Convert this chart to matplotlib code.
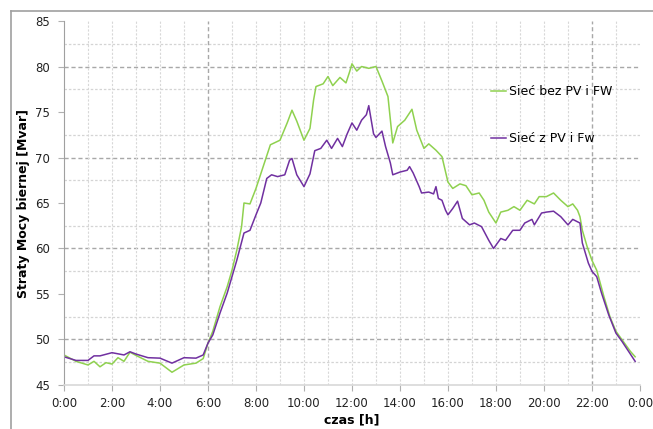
import matplotlib
matplotlib.use('Agg')
import matplotlib.pyplot as plt
from matplotlib.lines import Line2D

# czas [h] i straty mocy biernej [Mvar]
t_bez = [0, 0.5, 1, 1.25, 1.5, 1.75, 2, 2.25, 2.5, 2.75, 3, 3.5, 4, 4.5, 5, 5.5, 5.8,
         6, 6.2, 6.5, 6.8, 7, 7.2, 7.4, 7.5, 7.75, 8, 8.3, 8.6, 9, 9.3, 9.5, 9.7, 10,
         10.25, 10.4, 10.5, 10.8, 11, 11.2, 11.5, 11.75, 11.9, 12, 12.2, 12.4, 12.7,
         13, 13.25, 13.5, 13.7, 13.9, 14.2, 14.5, 14.7, 15, 15.2, 15.5, 15.75, 16,
         16.2, 16.5, 16.75, 17, 17.3, 17.5, 17.7, 18, 18.2, 18.5, 18.75, 19, 19.3,
         19.6, 19.8, 20.1, 20.4, 20.7, 21, 21.2, 21.4, 21.5, 21.6, 21.8, 22, 22.2,
         22.5, 22.75, 23, 23.3, 23.6, 23.8]
bez_pv = [48.3, 47.6, 47.2, 47.6, 47.0, 47.45, 47.3, 48.0, 47.6, 48.6, 48.25, 47.6,
          47.4, 46.4, 47.2, 47.4, 47.9, 49.6, 50.9, 53.6, 55.8, 57.6, 59.8, 62.4,
          65.0, 64.9, 66.6, 69.0, 71.4, 71.9, 73.8, 75.2, 74.0, 71.9, 73.2, 76.3,
          77.8, 78.1, 78.9, 77.9, 78.8, 78.2, 79.4, 80.3, 79.5, 80.0, 79.8, 80.0,
          78.4, 76.7, 71.6, 73.4, 74.1, 75.3, 73.0, 71.0, 71.5, 70.8, 70.1, 67.3,
          66.6, 67.1, 66.9, 65.9, 66.1, 65.3, 64.0, 62.8, 64.0, 64.2, 64.6, 64.2,
          65.3, 64.9, 65.7, 65.7, 66.1, 65.3, 64.6, 64.9, 64.2, 63.5, 62.0, 60.2,
          58.7, 57.6, 54.7, 52.5, 50.9, 49.8, 48.7, 48.1]

t_z = [0, 0.5, 1, 1.25, 1.5, 2, 2.5, 2.75, 3, 3.5, 4, 4.5, 5, 5.5, 5.8, 6, 6.2,
       6.5, 6.8, 7, 7.2, 7.5, 7.75, 8, 8.2, 8.45, 8.65, 8.9, 9.2, 9.4, 9.5, 9.7,
       10, 10.25, 10.45, 10.7, 10.95, 11.15, 11.4, 11.6, 11.8, 12, 12.2, 12.4,
       12.6, 12.7, 12.9, 13, 13.25, 13.4, 13.6, 13.7, 14, 14.3, 14.4, 14.55, 14.8,
       14.9, 15.2, 15.4, 15.5, 15.6, 15.75, 15.9, 16, 16.2, 16.4, 16.6, 16.9, 17.1,
       17.4, 17.7, 17.9, 18.2, 18.4, 18.7, 19, 19.2, 19.5, 19.6, 19.9, 20.1, 20.4,
       20.7, 21, 21.2, 21.5, 21.6, 21.85, 22, 22.2, 22.4, 22.7, 23, 23.25, 23.5,
       23.8]
z_pv = [48.1, 47.7, 47.7, 48.2, 48.2, 48.55, 48.3, 48.65, 48.4, 48.0, 47.95, 47.4,
        48.0, 47.95, 48.3, 49.6, 50.5, 52.9, 55.1, 56.9, 58.7, 61.7, 62.0, 63.7,
        65.0, 67.7, 68.1, 67.9, 68.1, 69.7, 69.9, 68.1, 66.8, 68.2, 70.75, 71.0,
        71.9, 71.0, 72.1, 71.2, 72.6, 73.8, 73.0, 74.1, 74.7, 75.7, 72.6, 72.2,
        72.9, 71.2, 69.4, 68.1, 68.4, 68.6, 69.0, 68.3, 66.8, 66.1, 66.2, 66.0,
        66.8, 65.5, 65.3, 64.2, 63.7, 64.4, 65.2, 63.3, 62.6, 62.8, 62.4, 60.9,
        60.0, 61.1, 60.9, 62.0, 62.0, 62.8, 63.2, 62.6, 63.9, 64.0, 64.1, 63.5,
        62.6, 63.2, 62.8, 60.6, 58.4, 57.5, 56.9, 55.1, 52.7, 50.7, 49.8, 48.8,
        47.6]

hour_ticks = list(range(0, 25, 2))
hour_labels = ['0:00', '2:00', '4:00', '6:00', '8:00', '10:00', '12:00', '14:00',
               '16:00', '18:00', '20:00', '22:00', '0:00']

fig = plt.figure(figsize=(6.53, 4.29), dpi=100)
ax = fig.add_axes([0.098, 0.1026, 0.882, 0.8484])

# siatka
for v in [47.5, 52.5, 57.5, 62.5, 67.5, 72.5, 77.5, 82.5]:
    ax.axhline(v, color='#d4d4d4', lw=0.9, ls=(0, (2, 1.5)), zorder=0)
for v in [50, 60, 70, 80]:
    ax.axhline(v, color='#a8a8a8', lw=1.0, ls=(0, (3, 2)), zorder=0)
for h in range(1, 24):
    if h in (6, 22):
        ax.axvline(h, color='#a8a8a8', lw=1.0, ls=(0, (3, 2)), zorder=0)
    else:
        ax.axvline(h, color='#d8d8d8', lw=0.8, ls=(0, (2, 1.5)), zorder=0)

ax.plot(t_bez, bez_pv, color='#8fd14f', lw=1.1, label='Sieć bez PV i FW')
ax.plot(t_z, z_pv, color='#7030a0', lw=1.1, label='Sieć z PV i Fw')

ax.set_xlim(0, 24)
ax.set_ylim(45, 85)
ax.set_xticks(hour_ticks)
ax.set_xticklabels(hour_labels)
ax.set_yticks(range(45, 86, 5))
ax.tick_params(axis='both', labelsize=8.5, colors='#222222', length=4,
               direction='out', pad=6)
ax.tick_params(axis='both', color='#b0b0b0')
ax.tick_params(axis='x', pad=5)

for s in ['top', 'right']:
    ax.spines[s].set_visible(False)
ax.spines['left'].set_color('#a0a0a0')
ax.spines['bottom'].set_color('#d8d8d8')
ax.spines['bottom'].set_linewidth(1.2)

ax.set_ylabel('Straty Mocy biernej [Mvar]', fontsize=9, fontweight='bold', labelpad=4)
ax.set_xlabel('czas [h]', fontsize=9, fontweight='bold', labelpad=2)

ax.legend(loc='upper left', bbox_to_anchor=(0.722, 0.855), frameon=False,
          fontsize=9, handlelength=1.2, handletextpad=0.2, labelspacing=2.75)

# ramka obszaru wykresu
fig.add_artist(Line2D([11 / 653, 11 / 653], [0, 1 - 11 / 429], color='#a0a0a0', lw=1.2))
fig.add_artist(Line2D([11 / 653, 1], [1 - 11 / 429, 1 - 11 / 429], color='#a0a0a0', lw=1.2))

fig.savefig('out.png', dpi=100)
